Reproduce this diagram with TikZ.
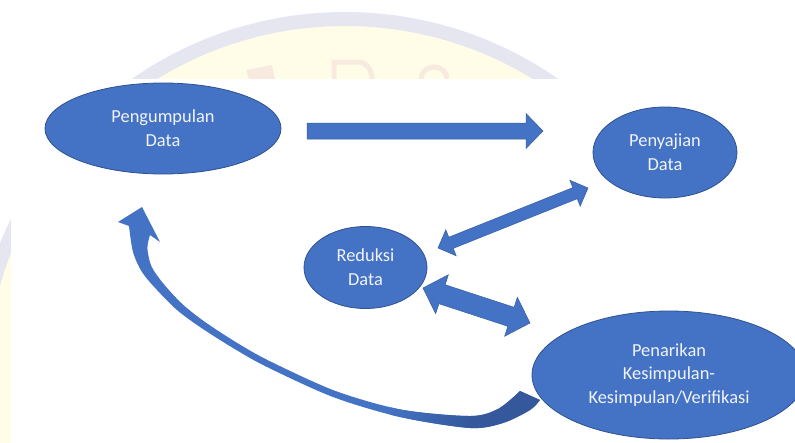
\documentclass[tikz,border=0pt]{standalone}
\usepackage{fontspec}
\setmainfont{Carlito}
\usetikzlibrary{calc,shapes.geometric}
\definecolor{ofblue}{HTML}{4472C4}
\definecolor{ofedge}{HTML}{2F528F}
\definecolor{ofdark}{HTML}{34589B}
\definecolor{wmring}{HTML}{DFE1F3}
\definecolor{wmfill}{HTML}{FFFDE8}
\definecolor{wmletter}{HTML}{F9EADF}
\definecolor{txtc}{HTML}{F2F4FB}
\tikzset{
  stage/.style={ellipse, fill=ofblue, draw=ofedge, line width=0.8pt, inner sep=0pt,
    text=txtc, align=center, font=\fontsize{18.4}{23.8}\selectfont},
  blockarrow/.style={fill=ofblue, draw=ofedge!60!ofblue, line width=0.5pt, line join=miter},
}
% #1 from, #2 to, #3 half shaft, #4 half head, #5 head length
\newcommand\dblblock[5]{%
  \filldraw[blockarrow] (#1)
   -- ($(#1)!#5!(#2)!#4!90:(#2)$)
   -- ($(#1)!#5!(#2)!#3!90:(#2)$)
   -- ($(#2)!#5!(#1)!#3!-90:(#1)$)
   -- ($(#2)!#5!(#1)!#4!-90:(#1)$)
   -- (#2)
   -- ($(#2)!#5!(#1)!#4!90:(#1)$)
   -- ($(#2)!#5!(#1)!#3!90:(#1)$)
   -- ($(#1)!#5!(#2)!#3!-90:(#2)$)
   -- ($(#1)!#5!(#2)!#4!-90:(#2)$)
   -- cycle;}
\newcommand\sglblock[5]{%
  \filldraw[blockarrow] ($(#1)!#3!90:(#2)$)
   -- ($(#2)!#5!(#1)!#3!-90:(#1)$)
   -- ($(#2)!#5!(#1)!#4!-90:(#1)$)
   -- (#2)
   -- ($(#2)!#5!(#1)!#4!90:(#1)$)
   -- ($(#2)!#5!(#1)!#3!90:(#1)$)
   -- ($(#1)!#3!-90:(#2)$)
   -- cycle;}
\begin{document}
\begin{tikzpicture}[x=1pt,y=-1pt]
\useasboundingbox (0,0) rectangle (795,442);
% faded watermark behind the diagram
\begin{scope}
  \clip (0,0) rectangle (795,442);
  \fill[wmfill] (345,385) circle (372pt);
  \draw[wmring, line width=14pt, opacity=0.8] (345,385) circle (366pt);
  \fill[wmletter] (246,70) -- (272,65) -- (275,79) -- (249,79) -- cycle;
  \draw[wmletter, line width=5pt] (334,79) -- (334,62) -- (358,62) to[out=0,in=90] (372,79);
  \draw[wmletter, line width=5pt] (421,79) to[out=90,in=180] (434,67) to[out=0,in=90] (447,79);
\end{scope}
\fill[white] (11,79) rectangle (800,446);

% return arrow (Penarikan -> Pengumpulan)
\begin{scope}
  \clip plot[smooth] coordinates {(129,226) (133,252) (142,272) (157,290) (177,310) (200,327) (233,348) (267,367) (333,397) (400,417) (470,428) (503,423) (530,410) (540,400)}
     -- plot[smooth] coordinates {(520,391) (498.6,408.6) (470.7,416) (401.7,409.7) (335.3,390.9) (269.9,361.2) (236.3,342.4) (203.9,321.2) (182.2,303.9) (163.6,283.9) (151.4,266.2) (147.4,248) (150,235)}
     -- (160,242) -- (142,207) -- (118,222) -- cycle;
  \fill[ofblue] (100,200) rectangle (560,442);
  \shade[left color=ofblue, right color=ofdark] (390,370) rectangle (470,442);
  \fill[ofdark] (469.5,370) rectangle (560,442);
\end{scope}

% nodes
\node[stage, minimum width=236pt, minimum height=91pt] (peng) at (163,128.5) {Pengumpulan\\Data};
\node[stage, minimum width=144pt, minimum height=91pt] (peny) at (665,152.5) {Penyajian\\Data};
\node[stage, minimum width=123pt, minimum height=82pt] (redu) at (365.5,267.5) {Reduksi\\Data};
\node[stage, minimum width=274pt, minimum height=128pt] (pena) at (669,375) {Penarikan\\Kesimpulan-\\Kesimpulan/Verifikasi};

% block arrows
\coordinate (a0) at (307,131);
\coordinate (a1) at (543,131);
\sglblock{a0}{a1}{8pt}{17.5pt}{17pt}
\coordinate (b0) at (438,248);
\coordinate (b1) at (588,188);
\dblblock{b0}{b1}{6pt}{14pt}{14pt}
\coordinate (c0) at (423,288);
\coordinate (c1) at (530,323);
\dblblock{c0}{c1}{10pt}{20.5pt}{20pt}
\end{tikzpicture}
\end{document}
